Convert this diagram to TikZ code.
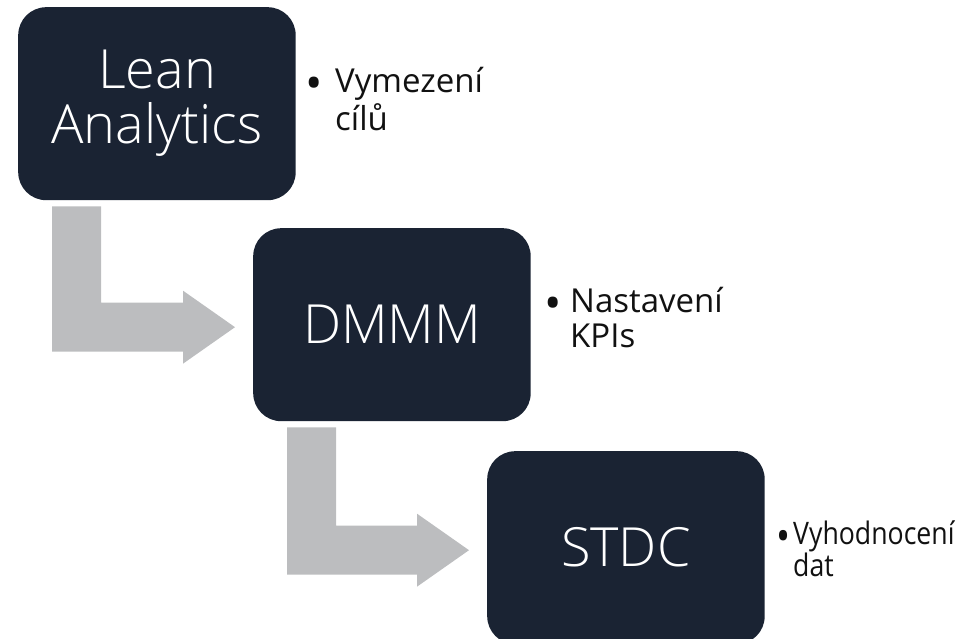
\documentclass[tikz,border=0pt]{standalone}
\usepackage{fontspec}
\usepackage{graphicx}
\setmainfont{Open Sans}
\newfontfamily\stagefont{Open Sans Light}
\usetikzlibrary{calc}
\definecolor{boxnavy}{HTML}{1A2333}
\definecolor{arrowgray}{HTML}{BCBDBF}
\definecolor{notetext}{HTML}{111111}

% bent block arrow from below one stage to the left side of the next
\newcommand\bentflow[2]{%
  \fill[flow] let \p1=(#1.south west), \p2=(#2.west) in
    (\x1+34pt,\y1-6pt) -- (\x1+83pt,\y1-6pt) -- (\x1+83pt,\y2+22pt)
    -- (\x2-70pt,\y2+22pt) -- (\x2-70pt,\y2+34pt) -- (\x2-18pt,\y2-2.5pt)
    -- (\x2-70pt,\y2-39pt) -- (\x2-70pt,\y2-27pt) -- (\x1+34pt,\y2-27pt) -- cycle;}
% enlarged bullet hanging left of the first line
\newcommand\notebullet[1]{\llap{\raisebox{-0.2em}{\scalebox{1.4}{•}}\hspace{#1}}}

\begin{document}
\begin{tikzpicture}[x=1pt,y=1pt,
  stage/.style={fill=boxnavy, rounded corners=28pt, minimum width=277.5pt,
    minimum height=193pt, inner sep=0pt, text=white, align=center,
    font=\stagefont\fontsize{54}{55}\selectfont, anchor=north west},
  note/.style={anchor=base west, inner sep=0pt, text=notetext,
    font=\fontsize{33}{35}\selectfont},
  flow/.style={fill=arrowgray}]
\useasboundingbox (0,0) rectangle (962,639);

\node[stage] (lean) at (18,632) {Lean\\Analytics};
\node[stage] (dmmm) at (253,411) {DMMM};
\node[stage] (stdc) at (487,188) {STDC};

\bentflow{lean}{dmmm}
\bentflow{dmmm}{stdc}

\node[note] (goals) at (335,546)
  {\begin{tabular}[t]{@{}l@{}}\notebullet{12pt}Vymezení\\cílů\end{tabular}};
\node[note] (kpis) at (570,326)
  {\begin{tabular}[t]{@{}l@{}}\notebullet{8pt}Nastavení\\KPIs\end{tabular}};
\node[note, font=\fontsize{31}{25}\selectfont] (eval) at (793,94)
  {\scalebox{0.86}[1]{\begin{tabular}[t]{@{}l@{}}\notebullet{3pt}Vyhodnocení\\dat\end{tabular}}};
\end{tikzpicture}
\end{document}
